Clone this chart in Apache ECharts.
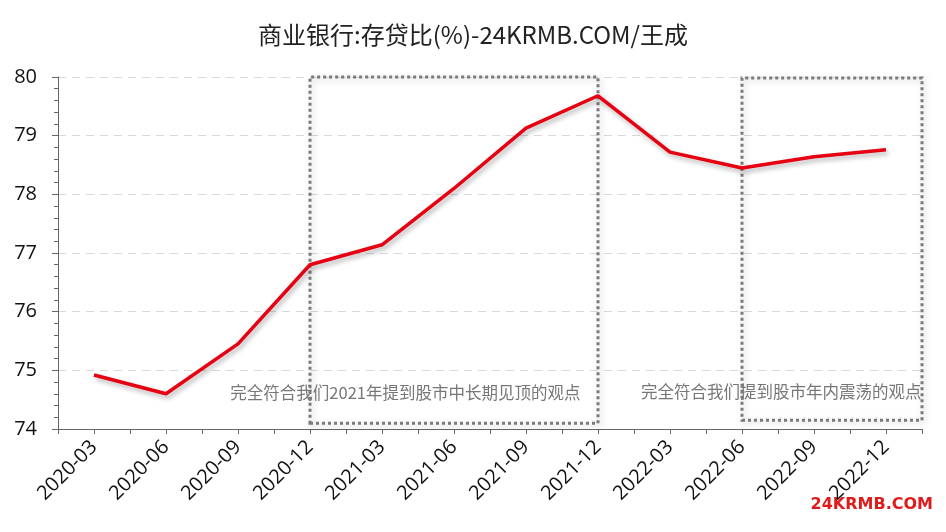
<!DOCTYPE html>
<html><head><meta charset="utf-8">
<script src="https://cdn.jsdelivr.net/npm/echarts@6/dist/echarts.min.js"></script>
<style>html,body{margin:0;padding:0;background:#fff}#c{width:946px;height:532px}</style>
</head><body><div id="c"></div>
<script>
const categories = ['2020-03','2020-06','2020-09','2020-12','2021-03','2021-06','2021-09','2021-12','2022-03','2022-06','2022-09','2022-12'];
const ratio = [74.92, 74.60, 75.45, 76.80, 77.14, 78.10, 79.13, 79.68, 78.72, 78.45, 78.64, 78.76];
const yTicks = [74, 75, 76, 77, 78, 79, 80];
const notes = ['完全符合我们2021年提到股市中长期见顶的观点', '完全符合我们提到股市年内震荡的观点'];

const chart = echarts.init(document.getElementById('c'));
const boxStyle = {
  color: 'rgba(0,0,0,0)', borderColor: '#7a7a7a', borderWidth: 3, borderType: [3, 3],
  shadowColor: 'rgba(0,0,0,0.25)', shadowBlur: 6, shadowOffsetX: 2, shadowOffsetY: 2
};
const noteLabel = {
  show: true, position: 'insideBottomRight', color: '#777', fontSize: 16.5,
  fontFamily: 'Noto Sans CJK SC', offset: [0, -20]
};
chart.setOption({
  animation: false,
  backgroundColor: '#fff',
  title: {
    text: '商业银行:存贷比(%)-24KRMB.COM/王成', left: 'center', top: 18,
    textStyle: { fontFamily: 'Noto Sans CJK SC', fontSize: 24, fontWeight: 'normal', color: '#222' }
  },
  grid: { left: 58, right: 24, top: 77, bottom: 103 },
  xAxis: [{
    type: 'category', data: categories, boundaryGap: true,
    axisLine: { lineStyle: { color: '#666' } },
    axisTick: { show: false },
    axisLabel: { rotate: 45, color: '#111', fontSize: 20, fontFamily: 'Open Sans', margin: 15, interval: 0 }
  }, {
    type: 'category', data: new Array(categories.length * 2).fill(''), boundaryGap: true, position: 'bottom',
    axisLine: { show: true, lineStyle: { color: '#666' } },
    axisTick: { show: true, length: 5, lineStyle: { color: '#666' } },
    axisLabel: { show: false }
  }],
  yAxis: {
    type: 'value', min: yTicks[0], max: yTicks[yTicks.length - 1], interval: 1,
    axisLine: { show: true, lineStyle: { color: '#666' } },
    axisTick: { show: true, length: 6, lineStyle: { color: '#666' } },
    minorTick: { show: true, splitNumber: 5, length: 4, lineStyle: { color: '#666' } },
    axisLabel: { color: '#111', fontSize: 20, fontFamily: 'Open Sans', margin: 21 },
    splitLine: { show: true, lineStyle: { color: '#d9d9d9', type: [8, 6] } }
  },
  series: [{
    type: 'line', data: ratio, xAxisIndex: 0, symbol: 'none',
    lineStyle: { color: '#e60012', width: 3.5, shadowColor: 'rgba(0,0,0,0.3)', shadowBlur: 5, shadowOffsetX: 2, shadowOffsetY: 3 },
    markArea: {
      silent: true,
      itemStyle: boxStyle,
      data: [
        [{ coord: ['2020-12', 74.1], itemStyle: boxStyle, label: Object.assign({}, noteLabel, { formatter: notes[0], offset: [-14, -19] }) },
         { coord: ['2021-12', 80] }],
        [{ coord: ['2022-06', 74.15], itemStyle: boxStyle, label: Object.assign({}, noteLabel, { formatter: notes[1], offset: [3, -17] }) },
         { x: 922, coord: [null, 79.95], y: 78 }]
      ]
    }
  }],
  graphic: [{
    type: 'text', right: 13, bottom: 19,
    style: { text: '24KRMB.COM', fill: '#e01b1b', font: 'bold 16px "DejaVu Sans"' }
  }]
});
</script></body></html>
